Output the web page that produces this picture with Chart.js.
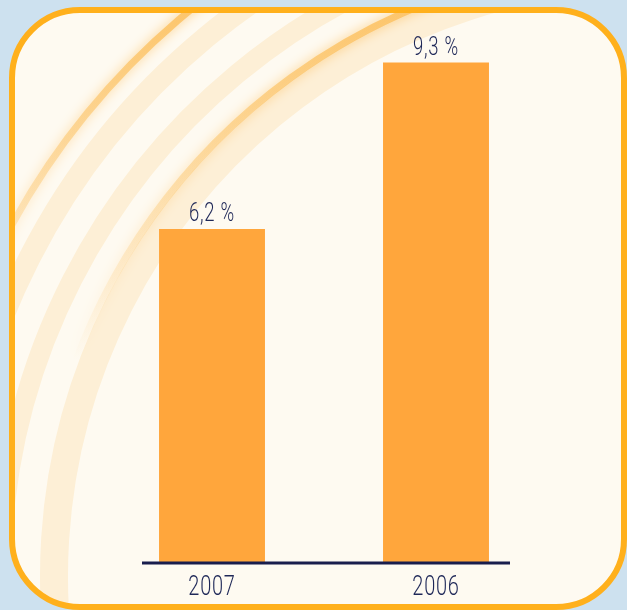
<!DOCTYPE html>
<html>
<head>
<meta charset="utf-8">
<script src="https://cdn.jsdelivr.net/npm/chart.js@4/dist/chart.umd.min.js"></script>
<style>
  html, body { margin: 0; padding: 0; background: #cde1ef; }
  #wrap { width: 627px; height: 610px; }
</style>
</head>
<body>
<div id="wrap"><canvas id="chart" width="627" height="610"></canvas></div>
<script>
// data
const years = ['2007', '2006'];
const rates = [6.2, 9.3];
const rateLabels = ['6,2 %', '9,3 %'];

const FONT = 'Roboto, "Liberation Sans", sans-serif';
const NAVY = '#1f2858';
const SQUEEZE = 0.74; // the original type is a narrow face

function roundBox(ctx, x, y, w, h, r) {
    ctx.beginPath();
    ctx.moveTo(x + r, y);
    ctx.lineTo(x + w - r, y);
    ctx.arcTo(x + w, y, x + w, y + r, r);
    ctx.lineTo(x + w, y + h - r);
    ctx.arcTo(x + w, y + h, x + w - r, y + h, r);
    ctx.lineTo(x + r, y + h);
    ctx.arcTo(x, y + h, x, y + h - r, r);
    ctx.lineTo(x, y + r);
    ctx.arcTo(x, y, x + r, y, r);
    ctx.closePath();
}

function narrowText(ctx, txt, x, y) {
    ctx.save();
    ctx.translate(x, y);
    ctx.scale(SQUEEZE, 1);
    ctx.fillText(txt, 0, 0);
    ctx.restore();
}

// card background with the soft arcs
const backdrop = {
    id: 'backdrop',
    beforeDraw(chart) {
        const ctx = chart.ctx;
        ctx.save();
        ctx.fillStyle = '#cde1ef';
        ctx.fillRect(0, 0, chart.width, chart.height);

        roundBox(ctx, 12, 10, 612, 597, 68);
        ctx.fillStyle = '#fefaf1';
        ctx.fill();
        ctx.save();
        ctx.clip();

        const cx = 653, cy = 576;
        ctx.strokeStyle = '#fdefd6';
        ctx.lineWidth = 20;
        ctx.beginPath(); ctx.arc(cx, cy, 652, 0.9 * Math.PI, 1.5 * Math.PI); ctx.stroke();
        ctx.lineWidth = 28;
        ctx.beginPath(); ctx.arc(cx, cy, 599, 0.9 * Math.PI, 1.5 * Math.PI); ctx.stroke();
        ctx.lineWidth = 22;
        ctx.beginPath(); ctx.arc(cx, cy, 700, 0.9 * Math.PI, 1.5 * Math.PI); ctx.stroke();

        // soft orange glows, fading downwards
        const g = ctx.createLinearGradient(0, 0, 0, 360);
        g.addColorStop(0, 'rgba(252,175,50,0.6)');
        g.addColorStop(1, 'rgba(252,175,50,0)');
        ctx.strokeStyle = g;
        ctx.shadowColor = 'rgba(250,165,30,0.9)';
        ctx.shadowBlur = 12;
        ctx.lineWidth = 7;
        ctx.beginPath(); ctx.arc(cx, cy, 616, 1.1 * Math.PI, 1.5 * Math.PI); ctx.stroke();
        ctx.beginPath(); ctx.arc(cx, cy, 731, 1.05 * Math.PI, 1.5 * Math.PI); ctx.stroke();
        ctx.restore();

        roundBox(ctx, 12, 10, 612, 597, 68);
        ctx.strokeStyle = '#ffb01c';
        ctx.lineWidth = 6;
        ctx.stroke();
        ctx.restore();
    }
};

// navy baseline, year labels and value labels
const annotate = {
    id: 'annotate',
    afterDatasetsDraw(chart) {
        const ctx = chart.ctx;
        const x = chart.scales.x, y = chart.scales.y;
        const y0 = y.getPixelForValue(0) + 1;
        ctx.save();
        ctx.strokeStyle = '#191d4d';
        ctx.lineWidth = 3;
        ctx.beginPath();
        ctx.moveTo(x.getPixelForValue(0) - 70, y0);
        ctx.lineTo(x.getPixelForValue(1) + 74, y0);
        ctx.stroke();

        ctx.fillStyle = NAVY;
        ctx.textAlign = 'center';
        ctx.textBaseline = 'alphabetic';
        ctx.letterSpacing = '1px';
        ctx.font = '300 27px ' + FONT;
        years.forEach((yr, i) => narrowText(ctx, yr, x.getPixelForValue(i), y0 + 32));

        ctx.font = '300 25px ' + FONT;
        chart.getDatasetMeta(0).data.forEach((bar, i) => {
            narrowText(ctx, rateLabels[i], bar.x, bar.y - 8);
        });
        ctx.restore();
    }
};

new Chart(document.getElementById('chart'), {
    type: 'bar',
    data: {
        labels: years,
        datasets: [{
            data: rates,
            backgroundColor: '#ffa63c',
            borderWidth: 0,
            categoryPercentage: 1,
            barPercentage: 0.473
        }]
    },
    options: {
        responsive: false,
        animation: false,
        layout: { padding: { left: 100, right: 79, top: 25, bottom: 48 } },
        plugins: { legend: { display: false }, tooltip: { enabled: false } },
        scales: {
            x: { display: false },
            y: { display: false, min: 0, max: 10 }
        }
    },
    plugins: [backdrop, annotate]
});
</script>
</body>
</html>
